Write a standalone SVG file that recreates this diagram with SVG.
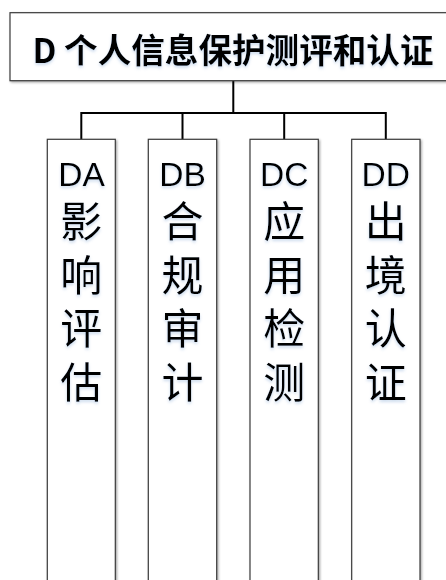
<svg xmlns="http://www.w3.org/2000/svg" width="446" height="580" viewBox="0 0 446 580">
<defs>
<filter id="ts" x="-20%" y="-20%" width="140%" height="160%">
<feDropShadow dx="0" dy="2" stdDeviation="1.8" flood-color="#8fb0d8" flood-opacity="0.45"/>
</filter>
<filter id="bs" x="-5%" y="-5%" width="115%" height="115%">
<feDropShadow dx="1.2" dy="1.2" stdDeviation="0.8" flood-color="#000" flood-opacity="0.35"/>
</filter>
</defs>
<style>
.box{fill:#fff;stroke:#3a3a3a;stroke-width:1.2;filter:url(#bs)}
.conn{fill:none;stroke:#000;stroke-width:2}
.title{font-family:"Noto Sans CJK SC","Noto Sans",sans-serif;font-weight:bold;font-size:33.6px;fill:#000;text-anchor:middle;filter:url(#ts)}
.lat{font-family:"Liberation Sans","Noto Sans",sans-serif;font-size:33.5px;fill:#000;text-anchor:middle;filter:url(#ts)}
.vert{font-family:"Noto Sans CJK SC",sans-serif;font-size:42px;fill:#000;text-anchor:start;writing-mode:vertical-rl;letter-spacing:11.7px;filter:url(#ts)}
</style>
<rect width="446" height="580" fill="#fff"/>
<g id="connectors">
<path class="conn" d="M233.3 80.7V113M81.3 139.3V113H385.8V139.3M182.5 113V139.3M284.2 113V139.3"/>
</g>
<g id="D">
<rect class="box" x="10" y="12.7" width="446" height="68"/>
<text class="title" x="233" y="63">D 个人信息保护测评和认证</text>
</g>
<g id="DA">
<rect class="box" x="47.3" y="139.3" width="68" height="460"/>
<text class="lat" x="81.5" y="186">DA</text>
<text class="vert" x="81.3" y="200">影响评估</text>
</g>
<g id="DB">
<rect class="box" x="148.3" y="139.3" width="68.4" height="460"/>
<text class="lat" x="182.5" y="186">DB</text>
<text class="vert" x="182.5" y="200">合规审计</text>
</g>
<g id="DC">
<rect class="box" x="250" y="139.3" width="68.3" height="460"/>
<text class="lat" x="284.2" y="186">DC</text>
<text class="vert" x="284.2" y="200">应用检测</text>
</g>
<g id="DD">
<rect class="box" x="351.7" y="139.3" width="68.3" height="460"/>
<text class="lat" x="385.8" y="186">DD</text>
<text class="vert" x="385.8" y="200">出境认证</text>
</g>
</svg>
